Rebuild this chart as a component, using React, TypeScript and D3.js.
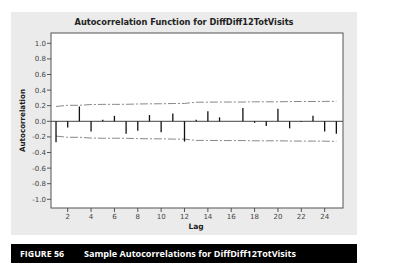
import React from "react";
import * as d3 from "d3";

const lags = [1,2,3,4,5,6,7,8,9,10,11,12,13,14,15,16,17,18,19,20,21,22,23,24,25];
const acf = [-0.27,-0.08,0.19,-0.13,0.02,0.07,-0.16,-0.12,0.08,-0.14,0.10,-0.26,0.02,0.13,0.05,0.0,0.17,-0.02,-0.06,0.16,-0.09,-0.01,0.07,-0.13,-0.16];
const upperLimit = [0.19,0.205,0.205,0.215,0.217,0.217,0.218,0.222,0.224,0.225,0.228,0.229,0.245,0.245,0.247,0.247,0.247,0.25,0.25,0.25,0.253,0.254,0.254,0.255,0.257];
const lowerLimit = upperLimit.map((v) => -v);
const yTicks = [1.0,0.8,0.6,0.4,0.2,0.0,-0.2,-0.4,-0.6,-0.8,-1.0];
const xTicks = [2,4,6,8,10,12,14,16,18,20,22,24];
const title = "Autocorrelation Function for DiffDiff12TotVisits";
const caption = "Sample Autocorrelations for DiffDiff12TotVisits";

export default function App() {
  const W = 405, H = 276;
  const pl = 51, pr = 343, pt = 33, pb = 208;
  const x = d3.scaleLinear().domain([0.57, 25.57]).range([pl, pr]);
  const y = d3.scaleLinear().domain([-1, 1]).range([199.3, 43.3]);
  const line = d3.line<number>().x((_, i) => x(lags[i])).y((d) => y(d));
  const font = "'DejaVu Sans', Verdana, sans-serif";
  const axisColor = "#555";
  return (
    <svg width={W} height={H} style={{ position: "absolute", left: 0, top: 0 }}>
      <rect x={0} y={0} width={W} height={H} fill="#fff" />
      <rect x={11} y={12} width={346} height={223} fill="#ebebeb" />
      <rect x={pl} y={pt} width={pr - pl} height={pb - pt} fill="#fff" stroke="#555" strokeWidth={1} />
      <text x={184} y={25} textAnchor="middle" fontFamily={font} fontSize={8.3} fontWeight="bold" fill="#222" textLength={219} lengthAdjust="spacingAndGlyphs">{title}</text>
      {yTicks.map((t) => (
        <g key={"y" + t}>
          <line x1={pl - 4} x2={pl} y1={y(t)} y2={y(t)} stroke={axisColor} />
          <text x={pl - 5} y={y(t) + 2.5} textAnchor="end" fontFamily={font} fontSize={7} fill="#444">{t.toFixed(1)}</text>
        </g>
      ))}
      {xTicks.map((t) => (
        <g key={"x" + t}>
          <line x1={x(t)} x2={x(t)} y1={pb} y2={pb + 4} stroke={axisColor} />
          <text x={x(t)} y={219} textAnchor="middle" fontFamily={font} fontSize={7} fill="#444">{t}</text>
        </g>
      ))}
      <text x={196} y={229} textAnchor="middle" fontFamily={font} fontSize={7.5} fontWeight="bold" fill="#222">Lag</text>
      <text transform={`translate(24.5,${120.5}) rotate(-90)`} textAnchor="middle" fontFamily={font} fontSize={7.5} fontWeight="bold" fill="#222" textLength={63} lengthAdjust="spacingAndGlyphs">Autocorrelation</text>
      <line x1={pl} x2={pr} y1={y(0)} y2={y(0)} stroke="#444" strokeWidth={1} />
      <path d={line(upperLimit) || ""} fill="none" stroke="#888" strokeWidth={1} strokeDasharray="8,2,2,2" />
      <path d={line(lowerLimit) || ""} fill="none" stroke="#888" strokeWidth={1} strokeDasharray="8,2,2,2" />
      {acf.map((v, i) => (
        <line key={"b" + i} x1={x(lags[i])} x2={x(lags[i])} y1={y(0)} y2={y(v)} stroke="#111" strokeWidth={1.3} />
      ))}
      <rect x={11} y={244} width={346} height={19} fill="#000" />
      <text x={20} y={257} fontFamily="'Open Sans', sans-serif" fontSize={8.5} fontWeight="bold" fill="#fff" textLength={44} lengthAdjust="spacingAndGlyphs">FIGURE 56</text>
      <text x={84} y={257} fontFamily="'Open Sans', sans-serif" fontSize={8.5} fontWeight="bold" fill="#fff" textLength={212} lengthAdjust="spacingAndGlyphs">{caption}</text>
    </svg>
  );
}
